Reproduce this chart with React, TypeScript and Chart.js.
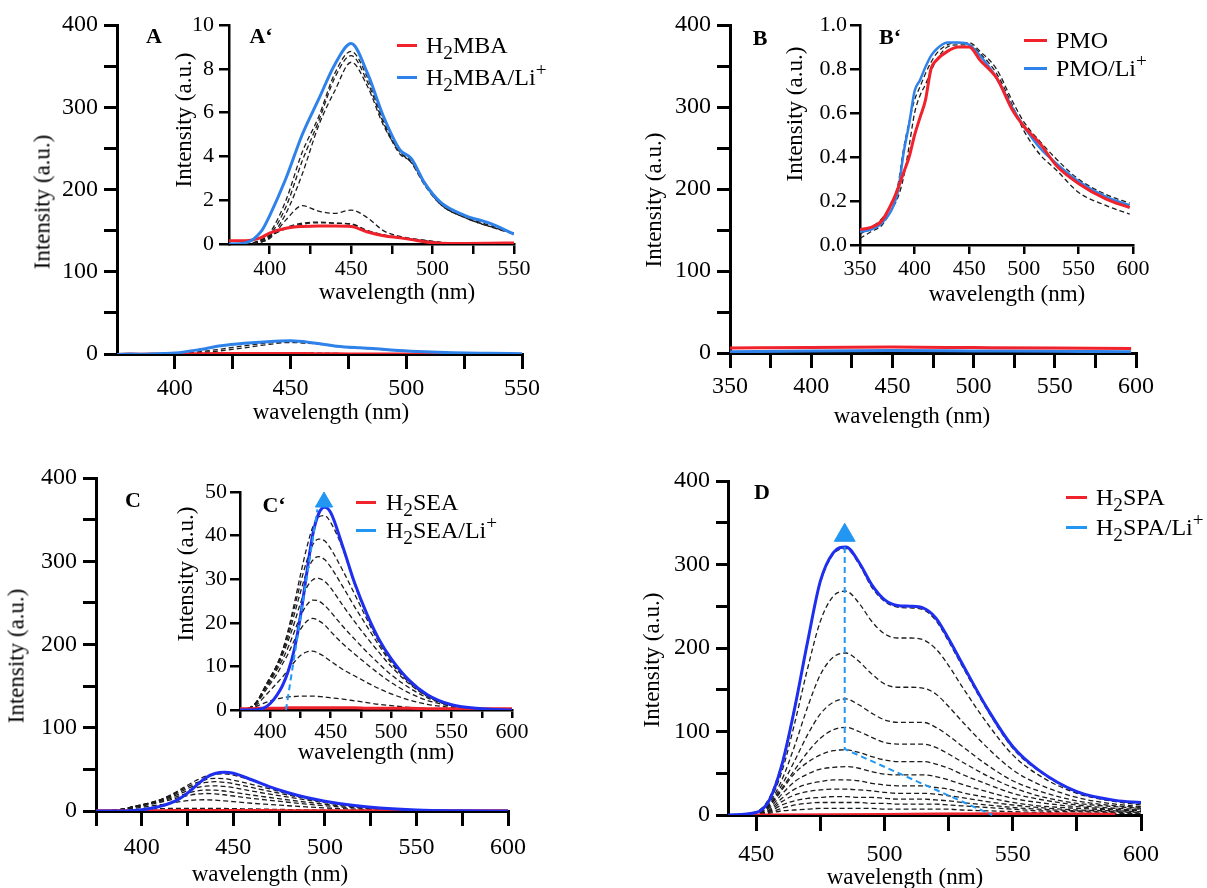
import React, { useEffect, useRef } from "react";
import { Chart, registerables } from "chart.js";
Chart.register(...registerables);

const W = 1207;
const H = 888;
const FONT = "'Liberation Serif', 'Times New Roman', Times, serif";
const RED = "#f0222c";
const BLUE_AB = "#2f82ea";
const BLUE_CD = "#1f2ff0";
const ARROW = "#2196f3";
const DASH = "#1c1c1c";

// ---------- Panel A / A' (H2MBA) ----------
const waveA = [375, 385, 395, 400, 410, 420, 430, 440, 450, 460, 470, 480, 487, 495, 505, 520, 535, 550];
const mainA_blue = [-0.5, -0.3, 0.5, 1.2, 5, 10, 13, 15, 16, 13.5, 9.5, 7.5, 6.5, 4.5, 3, 1.5, 0.8, 0.3];
const mainA_red = [-0.5, -0.4, -0.2, 0, 0.4, 0.6, 0.7, 0.7, 0.6, 0.4, 0.2, 0.1, 0, -0.1, -0.2, -0.3, -0.4, -0.5];
const mainA_d1 = [-0.5, -0.3, 0.2, 0.5, 2.5, 6, 10, 13.5, 15, 13, 9.5, 7.5, 6.5, 4.5, 3, 1.5, 0.7, 0.2];
const mainA_d2 = [-0.5, -0.3, 0, 0.3, 1.5, 4, 7.5, 11.5, 14, 12.5, 9, 7, 6, 4.2, 2.8, 1.4, 0.6, 0.2];
const mainA_d3 = [-0.5, -0.3, 0.2, 0.5, 1.2, 1.8, 1.6, 1.5, 1.7, 1.2, 0.6, 0.4, 0.3, 0.2, 0.1, 0, -0.1, -0.2];

const insetA_blue = [0, 0.05, 0.6, 1.3, 3.0, 5.0, 6.6, 8.2, 9.15, 7.8, 5.8, 4.3, 3.9, 2.8, 1.9, 1.3, 0.95, 0.45];
const insetA_red = [0.15, 0.15, 0.3, 0.5, 0.72, 0.8, 0.82, 0.82, 0.8, 0.55, 0.38, 0.28, 0.2, 0.1, 0.03, 0.02, 0.03, 0.05];
const insetA_d1 = [0, 0, 0.2, 0.4, 0.75, 0.95, 1.0, 0.95, 0.9, 0.6, 0.4, 0.3, 0.22, 0.15, 0.05, 0, -0.1, -0.15];
const insetA_d2 = [0, 0, 0.15, 0.35, 0.7, 0.9, 0.97, 0.95, 0.92, 0.62, 0.42, 0.3, 0.22, 0.14, 0.06, 0, -0.05, -0.1];
const insetA_d3 = [0, 0, 0.1, 0.25, 1.1, 1.75, 1.5, 1.4, 1.55, 1.2, 0.6, 0.35, 0.25, 0.18, 0.08, 0.02, 0, 0];
const insetA_d4 = [0, 0, 0.1, 0.3, 1.4, 3.2, 5.4, 7.0, 8.3, 7.2, 5.4, 4.2, 3.7, 2.7, 1.8, 1.2, 0.8, 0.45];
const insetA_d5 = [0, 0, 0.2, 0.5, 2.0, 4.2, 5.8, 7.8, 8.8, 7.6, 5.6, 4.2, 3.8, 2.8, 1.85, 1.25, 0.85, 0.5];
const insetA_d6 = [0, 0, 0.15, 0.4, 1.7, 3.8, 5.6, 7.6, 8.6, 7.4, 5.5, 4.1, 3.75, 2.75, 1.8, 1.2, 0.8, 0.5];

// ---------- Panel B / B' (PMO) ----------
const waveBMain = [350, 400, 450, 500, 550, 597];
const mainB_red = [6, 6.8, 7.2, 6.6, 6, 5.6];
const mainB_blue = [1.5, 2.5, 3, 2.5, 2, 1.5];

const waveB = [350, 360, 370, 380, 385, 390, 395, 400, 405, 410, 415, 420, 430, 440, 450, 460, 475, 490, 500, 515, 530, 550, 575, 597];
const insetB_red = [0.07, 0.08, 0.11, 0.2, 0.26, 0.33, 0.4, 0.5, 0.58, 0.66, 0.8, 0.84, 0.88, 0.9, 0.9, 0.84, 0.76, 0.61, 0.54, 0.46, 0.36, 0.28, 0.21, 0.17];
const insetB_blue = [0.06, 0.07, 0.1, 0.17, 0.25, 0.42, 0.55, 0.7, 0.75, 0.81, 0.86, 0.89, 0.92, 0.92, 0.91, 0.86, 0.76, 0.62, 0.54, 0.44, 0.37, 0.29, 0.22, 0.18];
const insetB_d1 = [0.03, 0.06, 0.09, 0.17, 0.22, 0.31, 0.45, 0.6, 0.68, 0.73, 0.79, 0.84, 0.9, 0.91, 0.91, 0.87, 0.78, 0.63, 0.52, 0.41, 0.34, 0.24, 0.18, 0.14];
const insetB_d2 = [0.05, 0.08, 0.12, 0.2, 0.28, 0.44, 0.56, 0.66, 0.72, 0.78, 0.83, 0.87, 0.91, 0.92, 0.92, 0.88, 0.8, 0.65, 0.56, 0.47, 0.39, 0.3, 0.23, 0.19];

// ---------- Panel C / C' (H2SEA) ----------
const waveC = [375, 385, 390, 395, 400, 405, 410, 415, 420, 425, 430, 435, 440, 445, 450, 460, 470, 480, 490, 500, 515, 530, 550, 575, 600];
const C_blue = [0, 0, 0.1, 0.5, 1.5, 3.2, 5.5, 9, 14, 21.5, 31, 40, 45, 46.5, 45.3, 37.5, 29, 22, 16.2, 11.8, 6.8, 3.5, 1.2, 0.3, 0];
const C_red = [0.3, 0.3, 0.4, 0.4, 0.4, 0.4, 0.4, 0.5, 0.5, 0.5, 0.5, 0.5, 0.5, 0.5, 0.5, 0.5, 0.5, 0.4, 0.4, 0.4, 0.4, 0.3, 0.3, 0.3, 0.3];
const C_d1 = [0, 0.3, 1, 1.6, 2.1, 2.5, 2.8, 3.0, 3.1, 3.2, 3.2, 3.2, 3.1, 3.0, 2.8, 2.5, 2.1, 1.7, 1.3, 1.0, 0.6, 0.35, 0.15, 0.05, 0];
const C_d2 = [0, 0.5, 1.5, 3, 4.5, 6, 7.5, 9.3, 11, 12.5, 13.3, 13.5, 13, 12.2, 11.2, 9.3, 7.8, 6.3, 4.9, 3.7, 2.3, 1.3, 0.6, 0.2, 0];
const C_d3 = [0, 0.8, 2, 4, 6, 8, 10.5, 13, 16, 18.5, 20.3, 21, 20.5, 19.5, 18, 15.2, 12.8, 10.5, 8.3, 6.3, 3.9, 2.2, 0.9, 0.3, 0];
const C_d4 = [0, 0.8, 2.2, 4.5, 6.5, 9, 11.5, 14.5, 18, 21.5, 24, 25.2, 25, 24, 22.5, 19.2, 16.2, 13.3, 10.6, 8.1, 5.1, 2.8, 1, 0.3, 0];
const C_d5 = [0, 0.8, 2.3, 4.8, 7, 9.5, 12.5, 16, 20, 24.5, 28, 29.8, 30.2, 29.5, 28, 24, 20.2, 16.6, 13.2, 10, 6, 3.1, 1.1, 0.3, 0];
const C_d6 = [0, 0.8, 2.4, 5, 7.5, 10, 13, 17, 22, 27, 31.5, 34.3, 35.2, 34.5, 32.8, 28.3, 23.6, 19.2, 14.8, 10.8, 6.3, 3.2, 1.1, 0.3, 0];
const C_d7 = [0, 0.8, 2.4, 5, 7.5, 10, 13.5, 18, 23.5, 29, 34, 37.8, 39.2, 38.8, 37, 32, 26.5, 20.8, 15.5, 11.2, 6.5, 3.3, 1.1, 0.3, 0];
const C_d8 = [0, 0.7, 2.3, 4.8, 7.2, 10, 13.5, 18.5, 24.5, 31, 37, 41.8, 44.3, 44.6, 43, 37, 28.6, 21.7, 16, 11.6, 6.7, 3.4, 1.2, 0.3, 0];
const C_arrowLineX = [413, 439];
const C_arrowLineY = [0, 46];
const C_arrowHeadX = [444.5];
const C_arrowHeadY = [47.7];

// ---------- Panel D (H2SPA) ----------
const waveD = [439, 450, 455, 460, 465, 470, 475, 480, 485, 490, 495, 500, 505, 510, 515, 520, 525, 530, 540, 550, 560, 575, 590, 600];
const D_blue = [0, 3, 17, 60, 128, 207, 280, 314, 321, 303, 276, 258, 251, 250, 248, 236, 211, 183, 128, 82, 54, 28, 17.5, 15];
const D_d320 = [0, 4, 20, 62, 130, 208, 278, 312, 319, 301, 273, 256, 249, 248, 246, 233, 208, 180, 126, 80, 53, 27, 17, 14];
const D_d268 = [0, 3, 16, 52, 110, 175, 232, 262, 268, 254, 232, 217, 212, 212, 210, 199, 179, 155, 110, 72, 48, 26, 16, 12];
const D_d194 = [0, 3, 14, 42, 83, 129, 168, 189, 194, 184, 169, 157, 153, 153, 152, 145, 130, 113, 81, 54, 37, 21, 13, 10];
const D_d139 = [0, 2, 12, 36, 65, 96, 121, 135, 139, 132, 122, 114, 111, 111, 111, 105, 95, 83, 60, 41, 29, 17, 11, 9];
const D_d105 = [0, 2, 11, 32, 54, 75, 92, 102, 105, 100, 93, 87, 85, 85, 85, 81, 73, 64, 47, 33, 23, 14, 10, 8];
const D_d78 = [0, 2, 10, 30, 50, 63, 72, 77, 78, 75, 70, 66, 64, 64, 64, 61, 56, 49, 37, 26, 19, 12, 8, 7];
const D_d58 = [0, 2, 8, 25, 40, 49, 55, 57, 58, 56, 52, 49, 48, 48, 48, 46, 42, 37, 28, 20, 15, 10, 7, 6];
const D_d42 = [0, 1, 6, 20, 31, 37, 40, 42, 42, 41, 38, 36, 35, 35, 35, 33, 31, 27, 21, 15, 11, 8, 6, 5];
const D_d31 = [0, 1, 5, 16, 24, 28, 30, 31, 31, 30, 29, 27, 26, 26, 26, 25, 23, 21, 16, 12, 9, 6, 5, 4];
const D_d22 = [0, 1, 4, 12, 17, 20, 21, 22, 22, 21, 21, 20, 19, 19, 19, 18, 17, 15, 12, 9, 7, 5, 4, 3];
const D_d15 = [0, 1, 3, 8, 12, 14, 15, 15, 15, 15, 14, 14, 13, 13, 13, 13, 12, 11, 9, 7, 5, 4, 3, 2.5];
const D_d8 = [0, 0.5, 2, 5, 6, 7, 8, 8, 8, 8, 8, 7, 7, 7, 7, 7, 7, 6, 5, 4, 3, 2, 2, 1.5];
const waveDRed = [446, 480, 520, 550, 590];
const D_red = [0, 0.3, 1.2, 1.5, 0.8];
const D_arrowLineX = [484.5, 484.5, 542];
const D_arrowLineY = [321, 79, 0];
const D_arrowHeadX = [484.5];
const D_arrowHeadY = [335];

// ---------- helpers ----------
const pts = (xs: number[], ys: number[]) => xs.map((x, i) => ({ x, y: ys[i] }));
const solid = (xs: number[], ys: number[], color: string, w = 3) => ({
  data: pts(xs, ys),
  borderColor: color,
  backgroundColor: color,
  borderWidth: w,
  pointRadius: 0,
  fill: false,
  cubicInterpolationMode: "monotone",
});
const dashed = (xs: number[], ys: number[]) => ({ ...solid(xs, ys, DASH, 1.3), borderDash: [5, 3] });
const arrowLine = (xs: number[], ys: number[]) => ({
  data: pts(xs, ys),
  borderColor: ARROW,
  borderWidth: 2,
  borderDash: [6, 4],
  pointRadius: 0,
  tension: 0,
  fill: false,
  clip: false,
});
const arrowHead = (xs: number[], ys: number[], r: number) => ({
  data: pts(xs, ys),
  showLine: false,
  pointStyle: "triangle",
  pointRadius: r,
  pointBackgroundColor: ARROW,
  pointBorderColor: ARROW,
  pointBorderWidth: 1,
  clip: false,
});

type AxisSpec = {
  min: number; max: number; step: number; every: number;
  tl: number; pad: number; size: number; bw: number; minTick: boolean; digits?: number;
};
type Spec = { area: [number, number, number, number]; x: AxisSpec; y: AxisSpec; datasets: any[] };

function axisOptions(a: AxisSpec, afterFit: (s: any) => void) {
  return {
    type: "linear",
    min: a.min,
    max: a.max,
    afterFit,
    ticks: {
      stepSize: a.step,
      includeBounds: false,
      autoSkip: false,
      maxRotation: 0,
      minRotation: 0,
      padding: a.pad,
      color: "#000",
      font: { family: FONT, size: a.size },
      callback: (v: any) => {
        const n = Number(v);
        if (Math.abs(n - a.min) < 1e-9 && !a.minTick) return null;
        const q = n / a.every;
        if (Math.abs(q - Math.round(q)) > 1e-6) return "";
        return a.digits != null ? n.toFixed(a.digits) : String(Math.round(n));
      },
    },
    grid: {
      display: true,
      drawOnChartArea: false,
      drawTicks: true,
      tickLength: a.tl,
      tickWidth: a.bw,
      tickColor: "#000",
      color: "#000",
      lineWidth: a.bw,
    },
    border: { display: true, color: "#000", width: a.bw },
  };
}

function buildConfig(spec: Spec): any {
  const [L, R, T, B] = spec.area;
  return {
    type: "line",
    data: { datasets: spec.datasets },
    options: {
      responsive: false,
      maintainAspectRatio: false,
      animation: false,
      devicePixelRatio: 1,
      events: [],
      layout: { autoPadding: false, padding: { left: 0, top: T, right: W - R, bottom: 0 } },
      plugins: { legend: { display: false }, tooltip: { enabled: false }, title: { display: false } },
      scales: {
        x: { ...axisOptions(spec.x, (s: any) => { s.height = H - B; }), position: "bottom" },
        y: { ...axisOptions(spec.y, (s: any) => { s.width = L; }), position: "left" },
      },
    },
  };
}

const mainY = (tl: number, pad: number): AxisSpec => ({ min: 0, max: 400, step: 50, every: 100, tl, pad, size: 24, bw: 3, minTick: true });

const SPECS: Spec[] = [
  {
    area: [117, 522, 25, 354],
    x: { min: 375, max: 550, step: 25, every: 50, tl: 15, pad: 5, size: 24, bw: 3, minTick: false },
    y: mainY(13, 6),
    datasets: [
      solid(waveA, mainA_blue, BLUE_AB),
      solid(waveA, mainA_red, RED),
      dashed(waveA, mainA_d1),
      dashed(waveA, mainA_d2),
      dashed(waveA, mainA_d3),
    ],
  },
  {
    area: [730, 1136, 25, 353],
    x: { min: 350, max: 600, step: 25, every: 50, tl: 15, pad: 4, size: 24, bw: 3, minTick: true },
    y: mainY(13, 6),
    datasets: [solid(waveBMain, mainB_red, RED), solid(waveBMain, mainB_blue, BLUE_AB)],
  },
  {
    area: [96, 508, 478, 811],
    x: { min: 375, max: 600, step: 25, every: 50, tl: 15, pad: 7, size: 24, bw: 3, minTick: true },
    y: mainY(13, 6),
    datasets: [
      solid(waveC, C_blue, BLUE_CD),
      solid(waveC, C_red, RED),
      dashed(waveC, C_d8), dashed(waveC, C_d7), dashed(waveC, C_d6), dashed(waveC, C_d5),
      dashed(waveC, C_d4), dashed(waveC, C_d3), dashed(waveC, C_d2), dashed(waveC, C_d1),
    ],
  },
  {
    area: [728, 1141, 481, 815],
    x: { min: 439, max: 600, step: 25, every: 50, tl: 16, pad: 9, size: 24, bw: 3, minTick: false },
    y: mainY(12, 6),
    datasets: [
      arrowHead(D_arrowHeadX, D_arrowHeadY, 12),
      arrowLine(D_arrowLineX, D_arrowLineY),
      solid(waveD, D_blue, BLUE_CD),
      solid(waveDRed, D_red, RED),
      dashed(waveD, D_d320), dashed(waveD, D_d268), dashed(waveD, D_d194), dashed(waveD, D_d139),
      dashed(waveD, D_d105), dashed(waveD, D_d78), dashed(waveD, D_d58), dashed(waveD, D_d42),
      dashed(waveD, D_d31), dashed(waveD, D_d22), dashed(waveD, D_d15), dashed(waveD, D_d8),
    ],
  },
  // insets
  {
    area: [229, 514, 25, 244],
    x: { min: 375, max: 550, step: 25, every: 50, tl: 10, pad: 2, size: 22, bw: 2.5, minTick: false },
    y: { min: 0, max: 10, step: 2, every: 2, tl: 10, pad: 5, size: 22, bw: 2.5, minTick: true },
    datasets: [
      solid(waveA, insetA_blue, BLUE_AB),
      solid(waveA, insetA_red, RED),
      dashed(waveA, insetA_d1), dashed(waveA, insetA_d2), dashed(waveA, insetA_d3),
      dashed(waveA, insetA_d4), dashed(waveA, insetA_d5), dashed(waveA, insetA_d6),
    ],
  },
  {
    area: [860, 1133, 25, 245],
    x: { min: 350, max: 600, step: 50, every: 50, tl: 9, pad: 2, size: 22, bw: 2.5, minTick: true },
    y: { min: 0, max: 1, step: 0.2, every: 0.2, tl: 10, pad: 3, size: 22, bw: 2.5, minTick: true, digits: 1 },
    datasets: [
      solid(waveB, insetB_red, RED),
      solid(waveB, insetB_blue, BLUE_AB, 2.5),
      dashed(waveB, insetB_d1),
      dashed(waveB, insetB_d2),
    ],
  },
  {
    area: [240, 512, 492, 710],
    x: { min: 375, max: 600, step: 25, every: 50, tl: 8, pad: 1, size: 22, bw: 2.5, minTick: true },
    y: { min: 0, max: 50, step: 10, every: 10, tl: 10, pad: 3, size: 22, bw: 2.5, minTick: true },
    datasets: [
      arrowHead(C_arrowHeadX, C_arrowHeadY, 10),
      arrowLine(C_arrowLineX, C_arrowLineY),
      solid(waveC, C_blue, BLUE_CD),
      solid(waveC, C_red, RED),
      dashed(waveC, C_d8), dashed(waveC, C_d7), dashed(waveC, C_d6), dashed(waveC, C_d5),
      dashed(waveC, C_d4), dashed(waveC, C_d3), dashed(waveC, C_d2), dashed(waveC, C_d1),
    ],
  },
];

function ChartCanvas({ spec }: { spec: Spec }) {
  const ref = useRef<HTMLCanvasElement>(null);
  useEffect(() => {
    const chart = new Chart(ref.current as HTMLCanvasElement, buildConfig(spec));
    return () => chart.destroy();
  }, [spec]);
  return (
    <canvas
      ref={ref}
      width={W}
      height={H}
      style={{ position: "absolute", left: 0, top: 0, width: W, height: H }}
    />
  );
}

const textBase: React.CSSProperties = {
  position: "absolute",
  fontFamily: FONT,
  color: "#000",
  whiteSpace: "nowrap",
  lineHeight: 1,
};

function Label({ x, y, size = 23, bold = false, rotate = false, children }: any) {
  return (
    <div
      style={{
        ...textBase,
        left: x,
        top: y,
        fontSize: size,
        fontWeight: bold ? "bold" : "normal",
        transform: `translate(-50%, -50%)${rotate ? " rotate(-90deg)" : ""}`,
      }}
    >
      {children}
    </div>
  );
}

const Sub = ({ c }: { c: string }) => (
  <span style={{ fontSize: "0.8em", position: "relative", top: "0.32em", lineHeight: 0 }}>{c}</span>
);
const Sup = ({ c }: { c: string }) => (
  <span style={{ fontSize: "0.8em", position: "relative", top: "-0.45em", lineHeight: 0 }}>{c}</span>
);

function LegendRow({ x1, x2, y, color, tx, children }: any) {
  return (
    <>
      <div style={{ position: "absolute", left: x1, top: y - 1.5, width: x2 - x1, height: 3, background: color }} />
      <div style={{ ...textBase, left: tx, top: y - 12, fontSize: 24 }}>{children}</div>
    </>
  );
}

export default function App() {
  return (
    <div style={{ position: "absolute", left: 0, top: 0, width: W, height: H, background: "#fff", overflow: "hidden" }}>
      {SPECS.map((s, i) => (
        <ChartCanvas key={i} spec={s} />
      ))}

      {/* axis titles */}
      <Label x={42} y={202} rotate>Intensity (a.u.)</Label>
      <Label x={331} y={411}>wavelength (nm)</Label>
      <Label x={183} y={120} rotate>Intensity (a.u.)</Label>
      <Label x={397} y={291}>wavelength (nm)</Label>

      <Label x={653} y={200} rotate>Intensity (a.u.)</Label>
      <Label x={912} y={415}>wavelength (nm)</Label>
      <Label x={794} y={114} rotate>Intensity (a.u.)</Label>
      <Label x={1007} y={293}>wavelength (nm)</Label>

      <Label x={16} y={656} rotate>Intensity (a.u.)</Label>
      <Label x={270} y={873}>wavelength (nm)</Label>
      <Label x={185} y={574} rotate>Intensity (a.u.)</Label>
      <Label x={376} y={751}>wavelength (nm)</Label>

      <Label x={651} y={660} rotate>Intensity (a.u.)</Label>
      <Label x={905} y={876}>wavelength (nm)</Label>

      {/* panel letters */}
      <Label x={154} y={36} size={22} bold>A</Label>
      <Label x={261} y={36} size={22} bold>{"A\u2018"}</Label>
      <Label x={760} y={38} size={22} bold>B</Label>
      <Label x={890} y={37} size={22} bold>{"B\u2018"}</Label>
      <Label x={133} y={500} size={22} bold>C</Label>
      <Label x={274} y={505} size={22} bold>{"C\u2018"}</Label>
      <Label x={762} y={492} size={22} bold>D</Label>

      {/* legends */}
      <LegendRow x1={397} x2={417} y={45} color={RED} tx={426}>H<Sub c="2" />MBA</LegendRow>
      <LegendRow x1={397} x2={417} y={77} color={BLUE_AB} tx={426}>H<Sub c="2" />MBA/Li<Sup c="+" /></LegendRow>

      <LegendRow x1={1024} x2={1047} y={40} color={RED} tx={1056}>PMO</LegendRow>
      <LegendRow x1={1024} x2={1047} y={68} color={BLUE_AB} tx={1056}>PMO/Li<Sup c="+" /></LegendRow>

      <LegendRow x1={356} x2={376} y={502} color={RED} tx={386}>H<Sub c="2" />SEA</LegendRow>
      <LegendRow x1={356} x2={376} y={530} color={ARROW} tx={386}>H<Sub c="2" />SEA/Li<Sup c="+" /></LegendRow>

      <LegendRow x1={1066} x2={1087} y={497} color={RED} tx={1096}>H<Sub c="2" />SPA</LegendRow>
      <LegendRow x1={1066} x2={1087} y={527} color={ARROW} tx={1096}>H<Sub c="2" />SPA/Li<Sup c="+" /></LegendRow>
    </div>
  );
}
